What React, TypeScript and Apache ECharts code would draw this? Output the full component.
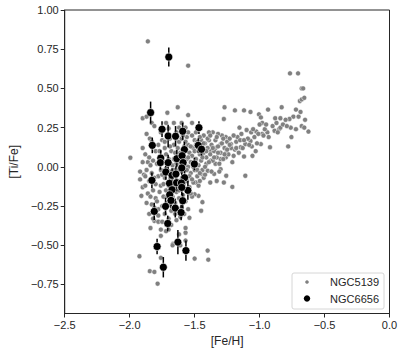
import React, { useEffect, useRef } from "react";
import * as echarts from "echarts";

// NGC5139 ([Fe/H], [Ti/Fe]) — grey points
const ngc5139: number[][] = [
  [-1.86, 0.80], [-1.55, 0.645], [-1.995, 0.058], [-1.925, -0.57], [-1.845, -0.665], [-1.81, -0.67],
  [-1.785, -0.745], [-1.50, -0.585], [-1.40, -0.534], [-1.395, -0.592], [-1.76, -0.58], [-1.665, -0.49],
  [-1.67, -0.50], [-1.61, -0.50], [-1.57, -0.42], [-1.57, -0.47], [-1.70, -0.40], [-1.76, -0.40],
  [-1.84, -0.39], [-1.81, -0.345], [-1.78, -0.35], [-1.54, -0.325], [-1.45, -0.28], [-1.47, -0.185],
  [-1.50, -0.175], [-1.44, -0.225], [-1.21, -0.128], [-1.257, -0.057], [-1.11, -0.057], [-1.275, -0.10],
  [-1.91, -0.185], [-1.90, -0.13], [-1.92, -0.08], [-1.89, -0.05], [-1.90, 0.12], [-1.845, 0.18],
  [-1.90, 0.31], [-1.87, 0.32], [-1.83, 0.28], [-1.71, 0.345], [-1.63, 0.38], [-1.55, 0.33],
  [-1.52, 0.28], [-1.70, 0.245], [-1.62, 0.25],
  [-0.766, 0.596], [-0.704, 0.596], [-0.676, 0.50], [-0.665, 0.50], [-0.69, 0.42], [-0.675, 0.43],
  [-0.656, 0.44], [-0.72, 0.365], [-0.685, 0.35], [-0.74, 0.32], [-0.70, 0.32], [-0.65, 0.30],
  [-0.77, 0.305], [-0.76, 0.25], [-0.72, 0.24], [-0.676, 0.26], [-0.656, 0.25], [-0.624, 0.225],
  [-0.78, 0.13], [-0.755, 0.19], [-0.83, 0.38], [-0.935, 0.365], [-1.005, 0.335], [-0.99, 0.315],
  [-0.98, 0.28], [-1.07, 0.35], [-1.12, 0.36], [-1.19, 0.36], [-1.27, 0.38], [-1.275, 0.305],
  [-1.155, 0.25], [-1.10, 0.235], [-1.065, 0.22], [-1.025, 0.225], [-0.98, 0.21], [-0.94, 0.22],
  [-0.885, 0.23], [-0.85, 0.24], [-0.84, 0.25], [-0.92, 0.125], [-0.99, 0.145], [-1.055, 0.07],
  [-1.12, 0.066], [-1.145, 0.125], [-1.17, 0.19], [-1.07, 0.165], [-1.11, 0.145], [-1.01, 0.21],
  [-0.97, 0.20], [-1.19, 0.11], [-1.20, 0.07], [-1.26, 0.06], [-1.22, 0.145], [-1.26, 0.19],
  [-1.29, 0.20], [-1.32, 0.21], [-1.36, 0.22], [-1.39, 0.22], [-1.30, 0.145], [-1.34, 0.12],
  [-1.375, 0.10], [-1.255, 0.09], [-1.30, 0.05], [-1.34, 0.02], [-1.375, 0.04], [-1.41, 0.06],
  [-1.40, -0.025], [-1.35, -0.045], [-1.30, -0.015], [-1.43, -0.07], [-1.38, -0.10], [-1.33, -0.09],
  [-1.45, -0.045], [-1.49, -0.10], [-1.47, -0.12],
  [-1.86, 0.03], [-1.84, 0.01], [-1.87, -0.02], [-1.83, -0.04], [-1.85, -0.09], [-1.80, -0.11],
  [-1.82, -0.15], [-1.86, -0.17], [-1.80, -0.20], [-1.83, -0.24], [-1.78, -0.27], [-1.79, -0.22],
  [-1.77, -0.16], [-1.76, -0.12], [-1.78, -0.06], [-1.76, -0.02], [-1.79, 0.02], [-1.77, 0.06],
  [-1.80, 0.10], [-1.78, 0.14], [-1.75, 0.17], [-1.73, 0.12], [-1.72, 0.08], [-1.74, 0.03],
  [-1.72, -0.01], [-1.73, -0.07], [-1.74, -0.11], [-1.72, -0.15], [-1.74, -0.19], [-1.71, -0.23],
  [-1.73, -0.30], [-1.75, -0.35], [-1.70, -0.33], [-1.68, -0.28], [-1.69, -0.24], [-1.67, -0.19],
  [-1.70, -0.12], [-1.68, -0.08], [-1.69, -0.03], [-1.67, 0.01], [-1.70, 0.05], [-1.68, 0.10],
  [-1.66, 0.14], [-1.69, 0.18], [-1.64, 0.22], [-1.62, 0.16], [-1.65, 0.09], [-1.63, 0.06],
  [-1.64, 0.02], [-1.62, -0.02], [-1.65, -0.05], [-1.63, -0.09], [-1.66, -0.13], [-1.64, -0.16],
  [-1.62, -0.20], [-1.65, -0.23], [-1.63, -0.27], [-1.61, -0.32], [-1.60, -0.26], [-1.59, -0.18],
  [-1.61, -0.12], [-1.58, -0.07], [-1.60, -0.03], [-1.57, 0.01], [-1.59, 0.05], [-1.61, 0.09],
  [-1.58, 0.13], [-1.60, 0.18], [-1.57, 0.25], [-1.56, 0.19], [-1.55, 0.14], [-1.54, 0.09],
  [-1.56, 0.05], [-1.55, 0.00], [-1.53, -0.04], [-1.56, -0.09], [-1.54, -0.13], [-1.57, -0.22],
  [-1.55, -0.27], [-1.53, 0.03], [-1.52, 0.07], [-1.51, 0.12], [-1.50, 0.17], [-1.52, 0.20],
  [-1.49, 0.22], [-1.48, 0.16], [-1.50, 0.10], [-1.49, 0.05], [-1.47, 0.01], [-1.50, -0.02],
  [-1.48, -0.06], [-1.46, -0.09], [-1.51, -0.10], [-1.45, 0.04], [-1.46, 0.08], [-1.44, 0.12],
  [-1.45, 0.17], [-1.43, 0.20], [-1.42, 0.15], [-1.43, 0.09], [-1.41, 0.02], [-1.44, -0.02],
  [-1.42, -0.05], [-1.40, 0.12], [-1.39, 0.17], [-1.38, 0.08], [-1.37, 0.14], [-1.36, 0.04],
  [-1.35, 0.10], [-1.34, 0.17], [-1.33, 0.06], [-1.32, 0.13], [-1.31, 0.02], [-1.30, 0.09],
  [-1.29, 0.15], [-1.28, 0.05], [-1.27, 0.12], [-1.25, 0.16], [-1.24, 0.08], [-1.22, 0.12],
  [-1.23, 0.18], [-1.21, 0.03], [-1.18, 0.16], [-1.16, 0.09], [-1.15, 0.17], [-1.13, 0.12],
  [-1.09, 0.18], [-1.06, 0.13], [-1.04, 0.19], [-1.02, 0.15], [-1.00, 0.27], [-0.96, 0.24],
  [-0.90, 0.26], [-0.87, 0.28], [-0.82, 0.27], [-0.80, 0.30], [-0.79, 0.26],
  [-1.88, 0.08], [-1.83, 0.16], [-1.81, 0.26], [-1.76, 0.22], [-1.72, 0.28], [-1.66, 0.28],
  [-1.60, 0.28], [-1.55, 0.22], [-1.87, 0.21], [-1.90, 0.03], [-1.92, -0.03], [-1.88, -0.12],
  [-1.87, -0.23], [-1.85, -0.30], [-1.82, -0.33], [-1.76, -0.44], [-1.72, -0.41], [-1.68, -0.37],
  [-1.64, -0.34], [-1.58, -0.30], [-1.52, -0.19], [-1.62, -0.43], [-1.57, -0.39],
  [-1.88, -0.06], [-1.85, 0.06], [-1.82, 0.04], [-1.81, -0.07], [-1.84, -0.19], [-1.81, -0.26],
  [-1.78, -0.31], [-1.77, 0.10], [-1.75, -0.05], [-1.75, -0.25], [-1.73, 0.16], [-1.71, 0.03],
  [-1.71, -0.19], [-1.69, 0.13], [-1.67, -0.15], [-1.66, -0.02], [-1.66, 0.05], [-1.65, -0.30],
  [-1.63, 0.12], [-1.62, -0.15], [-1.61, 0.02], [-1.60, -0.08], [-1.59, 0.20], [-1.58, -0.14],
  [-1.57, 0.16], [-1.56, -0.02], [-1.55, 0.06], [-1.54, -0.06], [-1.53, 0.13], [-1.53, -0.17],
  [-1.52, -0.08], [-1.51, 0.00], [-1.49, 0.14], [-1.48, -0.02], [-1.47, 0.10], [-1.46, 0.19],
  [-1.46, -0.04], [-1.44, 0.06], [-1.43, 0.15], [-1.42, 0.00], [-1.41, 0.10], [-1.40, 0.18],
  [-1.39, 0.03], [-1.38, 0.20], [-1.37, -0.03], [-1.36, 0.12], [-1.35, 0.06], [-1.33, 0.19],
  [-1.32, 0.09], [-1.31, -0.03], [-1.28, 0.18], [-1.27, 0.08], [-1.25, 0.11], [-1.23, 0.14],
  [-1.20, 0.20], [-1.18, 0.12], [-1.14, 0.21], [-1.12, 0.17], [-1.08, 0.14], [-1.05, 0.24],
  [-1.03, 0.10], [-0.95, 0.27], [-0.93, 0.19], [-0.88, 0.31], [-0.86, 0.22], [-0.84, 0.31],
];

// NGC6656 ([Fe/H], [Ti/Fe], error) — black points with error bars
const ngc6656Fe: number[] = [
  -1.699, -1.839, -1.751, -1.704, -1.647, -1.592, -1.467, -1.826, -1.472, -1.447,
  -1.579, -1.761, -1.764, -1.704, -1.637, -1.597, -1.589, -1.502, -1.599, -1.722,
  -1.674, -1.644, -1.829, -1.694, -1.639, -1.577, -1.602, -1.552, -1.674, -1.692,
  -1.599, -1.682, -1.592, -1.724, -1.649, -1.604, -1.811, -1.707, -1.629, -1.789,
  -1.567, -1.741,
];
const ngc6656Ti: number[] = [
  0.700, 0.346, 0.240, 0.197, 0.195, 0.227, 0.250, 0.137, 0.137, 0.112,
  0.110, 0.056, 0.027, 0.027, 0.052, 0.071, 0.027, 0.018, -0.007, -0.033,
  -0.054, -0.046, -0.086, -0.105, -0.101, -0.069, -0.103, -0.150, -0.146, -0.178,
  -0.131, -0.214, -0.216, -0.252, -0.263, -0.291, -0.284, -0.361, -0.480, -0.508,
  -0.534, -0.640,
];
const ngc6656Err: number[] = [
  0.061, 0.070, 0.050, 0.072, 0.065, 0.055, 0.040, 0.050, 0.045, 0.040,
  0.050, 0.050, 0.045, 0.050, 0.055, 0.050, 0.045, 0.040, 0.060, 0.050,
  0.045, 0.050, 0.050, 0.060, 0.055, 0.050, 0.045, 0.060, 0.055, 0.050,
  0.050, 0.050, 0.050, 0.055, 0.060, 0.050, 0.055, 0.050, 0.077, 0.050,
  0.065, 0.065,
];

const xTicks = [-2.5, -2.0, -1.5, -1.0, -0.5, 0.0];
const yTicks = [-0.75, -0.5, -0.25, 0.0, 0.25, 0.5, 0.75, 1.0];
const seriesNames = ["NGC5139", "NGC6656"];

const FONT = "Liberation Sans, Arial, sans-serif";
const INK = "#262626";
const minus = (s: string) => s.replace("-", "\u2212");

export default function App() {
  const ref = useRef<HTMLDivElement>(null);
  useEffect(() => {
    if (!ref.current) return;
    const chart = echarts.init(ref.current, undefined, { renderer: "svg" });
    const blackData = ngc6656Fe.map((x, i) => [x, ngc6656Ti[i], ngc6656Err[i]]);
    chart.setOption({
      animation: false,
      backgroundColor: "#ffffff",
      grid: {
        left: 55,
        right: 17.5,
        top: 10,
        bottom: 43.5,
        show: true,
        borderColor: INK,
        borderWidth: 1,
        backgroundColor: "transparent",
      },
      xAxis: {
        type: "value",
        min: -2.5,
        max: 0,
        interval: 0.5,
        name: "[Fe/H]",
        nameLocation: "middle",
        nameGap: 20,
        nameTextStyle: { fontFamily: FONT, fontSize: 12, color: INK },
        axisLine: { show: true, onZero: false, lineStyle: { color: INK, width: 1 } },
        axisTick: { show: true, inside: false, length: 4, lineStyle: { color: INK } },
        axisLabel: {
          fontFamily: FONT,
          fontSize: 11,
          color: INK,
          margin: 6,
          formatter: (v: number) => minus(v.toFixed(1)),
          customValues: xTicks,
        },
        splitLine: { show: false },
      },
      yAxis: {
        type: "value",
        min: -0.935,
        max: 1.0,
        name: "[Ti/Fe]",
        nameLocation: "middle",
        nameGap: 41,
        nameTextStyle: { fontFamily: FONT, fontSize: 12, color: INK },
        axisLine: { show: true, onZero: false, lineStyle: { color: INK, width: 1 } },
        axisTick: { show: true, inside: false, length: 4, lineStyle: { color: INK }, customValues: yTicks },
        axisLabel: {
          fontFamily: FONT,
          fontSize: 11,
          color: INK,
          margin: 6,
          formatter: (v: number) => minus(v.toFixed(2)),
          customValues: yTicks,
        },
        splitLine: { show: false },
      },
      series: [
        {
          name: seriesNames[0],
          type: "scatter",
          data: ngc5139,
          symbolSize: 5,
          itemStyle: { color: "#808080", borderColor: "#ffffff", borderWidth: 0.5, opacity: 1 },
          z: 2,
        },
        {
          name: "err",
          type: "custom",
          data: blackData,
          z: 3,
          renderItem: (params: any, api: any) => {
            const x = api.value(0);
            const y = api.value(1);
            const e = api.value(2);
            const p1 = api.coord([x, y - e]);
            const p2 = api.coord([x, y + e]);
            return {
              type: "line",
              shape: { x1: p1[0], y1: p1[1], x2: p2[0], y2: p2[1] },
              style: { stroke: "#000000", lineWidth: 1.5 },
            };
          },
        },
        {
          name: seriesNames[1],
          type: "scatter",
          data: blackData,
          symbolSize: 8,
          itemStyle: { color: "#000000", borderColor: "#ffffff", borderWidth: 0.6, opacity: 1 },
          z: 4,
        },
      ],
      graphic: [
        {
          type: "rect",
          shape: { x: 292, y: 273, width: 92, height: 36, r: 2 },
          style: { fill: "rgba(255,255,255,0.8)", stroke: "#d6d6d6", lineWidth: 1 },
          z: 10,
        },
        {
          type: "circle",
          shape: { cx: 307, cy: 282, r: 1.8 },
          style: { fill: "#808080" },
          z: 11,
        },
        {
          type: "circle",
          shape: { cx: 307, cy: 298.5, r: 3.2 },
          style: { fill: "#000000" },
          z: 11,
        },
        {
          type: "text",
          x: 379,
          y: 282,
          style: { text: seriesNames[0], fontFamily: FONT, fontSize: 11, fill: INK, align: "right", verticalAlign: "middle" },
          z: 11,
        },
        {
          type: "text",
          x: 379,
          y: 298.5,
          style: { text: seriesNames[1], fontFamily: FONT, fontSize: 11, fill: INK, align: "right", verticalAlign: "middle" },
          z: 11,
        },
      ],
    });
    return () => chart.dispose();
  }, []);
  return (
    <div
      ref={ref}
      style={{ position: "fixed", left: 0, top: 0, width: 407, height: 357, background: "#fff" }}
    />
  );
}
